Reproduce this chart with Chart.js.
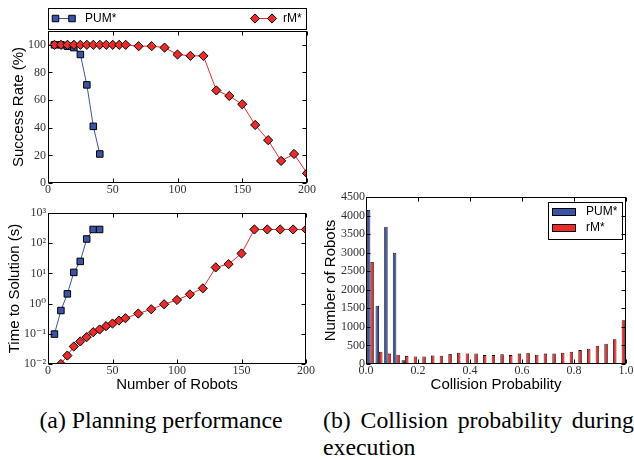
<!DOCTYPE html>
<html><head><meta charset="utf-8">
<script src="https://cdn.jsdelivr.net/npm/chart.js@4/dist/chart.umd.min.js"></script>
<style>
html,body{margin:0;padding:0;background:#fff;}
body{width:634px;height:460px;position:relative;overflow:hidden;}
canvas{position:absolute;display:block;}
#capA{position:absolute;left:0;width:322px;top:407px;text-align:center;font:23.8px/27px "Liberation Serif";color:#000;white-space:nowrap;}
#capB{position:absolute;left:323px;width:311px;top:407px;text-align:justify;text-align-last:left;font:23.8px/27px "Liberation Serif";color:#000;}
</style></head>
<body>
<canvas id="cA" width="320" height="200" style="left:0;top:0"></canvas>
<canvas id="cB" width="320" height="200" style="left:0;top:200px"></canvas>
<canvas id="cC" width="314" height="220" style="left:320px;top:180px"></canvas>
<div id="capA">(a) Planning performance</div>
<div id="capB">(b) Collision probability during execution</div>
<script>
// ---------- data ----------
const robotsPUM = [5, 10, 15, 20, 25, 30, 35, 40];
const successPUM = [100, 100, 99, 98, 93, 71, 41, 21];
const timePUM = [0.098, 0.59, 2.1, 10.8, 25, 138, 285, 285];

const robotsRM = [5, 10, 15, 20, 25, 30, 35, 40, 45, 50, 55, 60, 70, 80, 90, 100, 110, 120, 130, 140, 150, 160, 170, 180, 190, 200];
const successRM = [100, 100, 100, 100, 100, 100, 100, 100, 100, 100, 100, 100, 99, 99, 98, 93, 92, 92, 67, 63, 57, 42, 31, 16, 21, 7];
const timeRM = [null, 0.01, 0.019, 0.038, 0.056, 0.078, 0.113, 0.139, 0.179, 0.219, 0.275, 0.328, 0.468, 0.65, 0.95, 1.32, 2.03, 3.2, 15.8, 20.3, 45.7, 285, 285, 285, 285, 285];

const binLabels = ["0.00","0.03","0.07","0.10","0.13","0.17","0.20","0.23","0.27","0.30","0.33","0.37","0.40","0.43","0.47","0.50","0.53","0.57","0.60","0.63","0.67","0.70","0.73","0.77","0.80","0.83","0.87","0.90","0.93","0.97"];
const histPUM = [4150, 1570, 3700, 3000, 100, null, null, null, null, null, null, null, null, null, null, null, null, null, null, null, null, null, null, null, null, null, null, null, null, null];
const histRM = [2750, 330, 280, 250, 220, 205, 205, 230, 225, 270, 305, 285, 285, 240, 240, 260, 240, 280, 305, 250, 280, 280, 305, 330, 375, 410, 490, 545, 670, 1180];

const xTicksRobots = [0, 50, 100, 150, 200];
const yTicksSuccess = [0, 20, 40, 60, 80, 100];
const yTicksTime = [0.01, 0.1, 1, 10, 100, 1000];
const yTickLabelsTime = ["10\u207B\u00B2", "10\u207B\u00B9", "10\u2070", "10\u00B9", "10\u00B2", "10\u00B3"];
const xTicksProb = [0, 0.2, 0.4, 0.6, 0.8, 1.0];
const yTicksCount = [0, 500, 1000, 1500, 2000, 2500, 3000, 3500, 4000, 4500];

// ---------- styles ----------
const BLUE = '#3a55a5';
const RED = '#ee2b2b';
const TICKFONT = {family: '"Liberation Serif", "DejaVu Serif", serif', size: 12};
const TITLEFONT = {family: '"Liberation Sans", Arial, sans-serif', size: 15};
const TICKCOLOR = '#333';

Chart.defaults.animation = false;
Chart.defaults.responsive = false;
Chart.defaults.plugins.legend.display = false;
Chart.defaults.plugins.tooltip.enabled = false;

const setTicks = vals => (scale) => { scale.ticks = vals.map(v => ({value: v})); };

const framePlugin = {
  id: 'frame',
  afterDatasetsDraw(chart) {
    const {ctx, chartArea: a} = chart;
    ctx.save();
    ctx.strokeStyle = '#000';
    ctx.lineWidth = 1;
    const L = Math.round(a.left) + 0.5, R = Math.round(a.right) - 0.5;
    const T = Math.round(a.top) + 0.5, B = Math.round(a.bottom) - 0.5;
    const len = 4;
    ctx.beginPath();
    Object.values(chart.scales).forEach(s => {
      if (s.options.display === false) return;
      s.ticks.forEach(t => {
        const p = Math.round(s.getPixelForValue(t.value)) + 0.5;
        if (s.isHorizontal()) {
          ctx.moveTo(p, B); ctx.lineTo(p, B - len);
          ctx.moveTo(p, T); ctx.lineTo(p, T + len);
        } else {
          ctx.moveTo(L, p); ctx.lineTo(L + len, p);
          ctx.moveTo(R, p); ctx.lineTo(R - len, p);
        }
      });
    });
    ctx.stroke();
    ctx.strokeRect(L, T, R - L, B - T);
    ctx.restore();
  }
};

function drawSquare(ctx, x, y, s, fill) {
  ctx.fillStyle = fill; ctx.strokeStyle = '#000'; ctx.lineWidth = 1;
  ctx.beginPath(); ctx.rect(x - s / 2, y - s / 2, s, s); ctx.fill(); ctx.stroke();
}
function drawDiamond(ctx, x, y, r, fill) {
  ctx.fillStyle = fill; ctx.strokeStyle = '#000'; ctx.lineWidth = 1;
  ctx.beginPath(); ctx.moveTo(x, y - r); ctx.lineTo(x + r, y); ctx.lineTo(x, y + r); ctx.lineTo(x - r, y); ctx.closePath();
  ctx.fill(); ctx.stroke();
}

const topLegend = {
  id: 'topLegend',
  afterDraw(chart) {
    const {ctx, chartArea: a} = chart;
    ctx.save();
    ctx.strokeStyle = '#000'; ctx.lineWidth = 1;
    ctx.strokeRect(Math.round(a.left) + 0.5, 8.5, Math.round(a.right - a.left) - 1, 21);
    const y = 18.5;
    ctx.strokeStyle = BLUE; ctx.beginPath(); ctx.moveTo(55, y); ctx.lineTo(72, y); ctx.stroke();
    drawSquare(ctx, 55.5, y, 6.5, BLUE); drawSquare(ctx, 72, y, 6.5, BLUE);
    ctx.strokeStyle = RED; ctx.beginPath(); ctx.moveTo(255, y); ctx.lineTo(272, y); ctx.stroke();
    drawDiamond(ctx, 255, y, 4.6, RED); drawDiamond(ctx, 272, y, 4.6, RED);
    ctx.fillStyle = '#000';
    ctx.font = '12px "Liberation Sans", Arial, sans-serif';
    ctx.textBaseline = 'middle';
    ctx.fillText('PUM*', 85, y);
    ctx.fillText('rM*', 283, y);
    ctx.restore();
  }
};

const histLegend = {
  id: 'histLegend',
  afterDraw(chart) {
    const {ctx} = chart;
    ctx.save();
    ctx.strokeStyle = '#000'; ctx.lineWidth = 1;
    ctx.strokeRect(228.5, 22.5, 74, 37);
    ctx.fillStyle = BLUE; ctx.fillRect(232, 28, 24, 8); ctx.strokeRect(232.5, 28.5, 23, 7);
    ctx.fillStyle = RED; ctx.fillRect(232, 44, 24, 8); ctx.strokeRect(232.5, 44.5, 23, 7);
    ctx.fillStyle = '#000';
    ctx.font = '12px "Liberation Sans", Arial, sans-serif';
    ctx.textBaseline = 'middle';
    ctx.fillText('PUM*', 266, 32);
    ctx.fillText('rM*', 266, 48);
    ctx.restore();
  }
};

function lineSet(label, xs, ys, color, style, radius, order) {
  return {
    label, data: xs.map((x, i) => ({x, y: ys[i]})),
    borderColor: color, backgroundColor: color, borderWidth: 1,
    pointStyle: style, pointRadius: radius, pointBackgroundColor: color,
    pointBorderColor: '#000', pointBorderWidth: 1, order, tension: 0
  };
}

const tickOpts = (extra) => Object.assign({font: TICKFONT, color: TICKCOLOR, padding: 2, autoSkip: false, maxRotation: 0}, extra || {});
const noGrid = {display: false, drawTicks: false};
const plain = v => String(v);

// ---------- (a) top: success rate ----------
new Chart(document.getElementById('cA'), {
  type: 'line',
  data: {datasets: [
    lineSet('PUM*', robotsPUM, successPUM, BLUE, 'rect', 4.6, 1),
    lineSet('rM*', robotsRM, successRM, RED, 'rectRot', 4.6, 0)
  ]},
  options: {
    layout: {padding: {top: 31, right: 13, left: 0, bottom: 0}},
    scales: {
      x: {type: 'linear', min: 0, max: 200, grid: noGrid, border: {display: false},
          afterBuildTicks: setTicks(xTicksRobots), afterFit: s => { s.height = 17; },
          ticks: tickOpts({padding: 0, callback: plain})},
      y: {type: 'linear', min: 0, max: 110, grid: noGrid, border: {display: false},
          afterBuildTicks: setTicks(yTicksSuccess), afterFit: s => { s.width = 48; },
          ticks: tickOpts({callback: plain}),
          title: {display: true, text: 'Success Rate (%)', font: TITLEFONT, color: '#000', padding: {top: 9.5, bottom: 0}}}
    }
  },
  plugins: [framePlugin, topLegend]
});

// ---------- (a) bottom: time to solution ----------
new Chart(document.getElementById('cB'), {
  type: 'line',
  data: {datasets: [
    lineSet('PUM*', robotsPUM, timePUM, BLUE, 'rect', 4.6, 1),
    lineSet('rM*', robotsRM, timeRM, RED, 'rectRot', 4.6, 0)
  ]},
  options: {
    layout: {padding: {top: 13, right: 14, left: 0, bottom: 0}},
    scales: {
      x: {type: 'linear', min: 0, max: 200, grid: noGrid, border: {display: false},
          afterBuildTicks: setTicks(xTicksRobots), afterFit: s => { s.height = 36; },
          ticks: tickOpts({padding: 0, callback: plain}),
          title: {display: true, text: 'Number of Robots', font: TITLEFONT, color: '#000', padding: {top: 0, bottom: 6}}},
      y: {type: 'logarithmic', min: 0.01, max: 1000, grid: noGrid, border: {display: false},
          afterBuildTicks: setTicks(yTicksTime), afterFit: s => { s.width = 48; },
          ticks: tickOpts({callback: (v) => { const i = yTicksTime.indexOf(v); return i >= 0 ? yTickLabelsTime[i] : ''; }}),
          title: {display: true, text: 'Time to Solution (s)', font: TITLEFONT, color: '#000', padding: {top: 5.5, bottom: 0}}}
    }
  },
  plugins: [framePlugin]
});

// ---------- (b) histogram ----------
new Chart(document.getElementById('cC'), {
  type: 'bar',
  data: {labels: binLabels, datasets: [
    {label: 'PUM*', data: histPUM, backgroundColor: BLUE, borderColor: '#000', borderWidth: 0.8, xAxisID: 'x', categoryPercentage: 0.8, barPercentage: 1.0},
    {label: 'rM*', data: histRM, backgroundColor: RED, borderColor: '#000', borderWidth: 0.8, xAxisID: 'x', categoryPercentage: 0.8, barPercentage: 1.0}
  ]},
  options: {
    layout: {padding: {top: 17, right: 8, left: 0, bottom: 0}},
    scales: {
      x: {type: 'category', display: false, offset: true},
      xt: {type: 'linear', position: 'bottom', axis: 'x', min: 0, max: 1, offset: false, grid: {display: false, drawTicks: false, offset: false}, border: {display: false},
           afterBuildTicks: setTicks(xTicksProb), afterFit: s => { s.height = 36; },
           ticks: tickOpts({padding: 0, callback: v => Number(v).toFixed(1)}),
           title: {display: true, text: 'Collision Probability', font: TITLEFONT, color: '#000', padding: {top: 0, bottom: 6}}},
      y: {type: 'linear', min: 0, max: 4500, grid: noGrid, border: {display: false},
          afterBuildTicks: setTicks(yTicksCount), afterFit: s => { s.width = 46; },
          ticks: tickOpts({padding: 1, callback: plain}),
          title: {display: true, text: 'Number of Robots', font: TITLEFONT, color: '#000', padding: {top: 2, bottom: 0}}}
    }
  },
  plugins: [framePlugin, histLegend]
});
</script>
</body></html>
